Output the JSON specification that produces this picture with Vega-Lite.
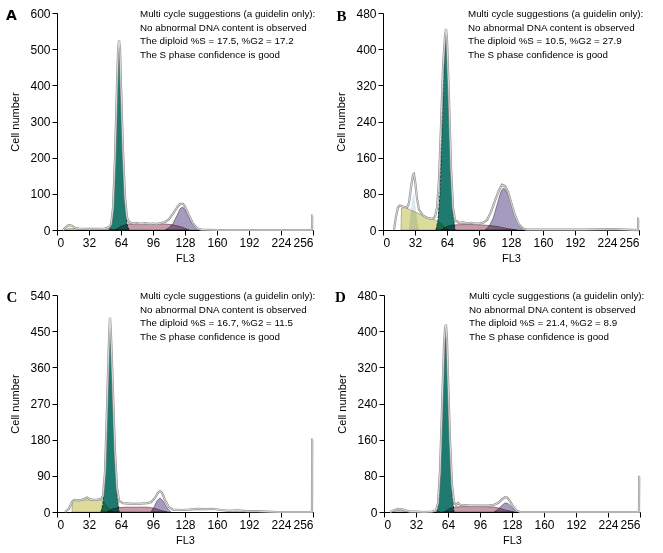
{
"$schema": "https://vega.github.io/schema/vega-lite/v6.json",
"padding": {"left": 6, "top": 7, "right": 0, "bottom": 0},
"config": {
  "font": "Liberation Sans",
  "view": {"stroke": null},
  "axis": {"grid": false, "domainColor": "#000", "tickColor": "#000", "labelColor": "#000", "titleColor": "#000", "labelFontSize": 12, "titleFontSize": 11, "titleFontWeight": "normal", "tickSize": 5, "labelPadding": 2, "labelFont": "Liberation Sans", "titleFont": "Liberation Sans"},
  "axisY": {"titlePadding": 9},
  "axisX": {"titlePadding": 4}
},
"datasets": {
"hist": [
{"panel":"A","comp":"note"},{"panel":"B","comp":"note"},{"panel":"C","comp":"note"},{"panel":"D","comp":"note"},
{"panel":"A","comp":"raw","x":6,"y":0},{"panel":"A","comp":"raw","x":9,"y":8},{"panel":"A","comp":"raw","x":12,"y":14},{"panel":"A","comp":"raw","x":15,"y":12},{"panel":"A","comp":"raw","x":18,"y":6},{"panel":"A","comp":"raw","x":22,"y":4},{"panel":"A","comp":"raw","x":30,"y":3},{"panel":"A","comp":"raw","x":40,"y":3},{"panel":"A","comp":"raw","x":48,"y":4},{"panel":"A","comp":"raw","x":52,"y":8},{"panel":"A","comp":"raw","x":54,"y":15},{"panel":"A","comp":"raw","x":56,"y":60},{"panel":"A","comp":"raw","x":58,"y":200},{"panel":"A","comp":"raw","x":60,"y":400},{"panel":"A","comp":"raw","x":61,"y":490},{"panel":"A","comp":"raw","x":62,"y":525},{"panel":"A","comp":"raw","x":63,"y":500},{"panel":"A","comp":"raw","x":64,"y":400},{"panel":"A","comp":"raw","x":66,"y":220},{"panel":"A","comp":"raw","x":68,"y":90},{"panel":"A","comp":"raw","x":70,"y":35},{"panel":"A","comp":"raw","x":72,"y":22},{"panel":"A","comp":"raw","x":76,"y":18},{"panel":"A","comp":"raw","x":80,"y":20},{"panel":"A","comp":"raw","x":84,"y":17},{"panel":"A","comp":"raw","x":88,"y":19},{"panel":"A","comp":"raw","x":92,"y":17},{"panel":"A","comp":"raw","x":96,"y":18},{"panel":"A","comp":"raw","x":100,"y":17},{"panel":"A","comp":"raw","x":104,"y":19},{"panel":"A","comp":"raw","x":108,"y":22},{"panel":"A","comp":"raw","x":112,"y":30},{"panel":"A","comp":"raw","x":116,"y":45},{"panel":"A","comp":"raw","x":120,"y":62},{"panel":"A","comp":"raw","x":123,"y":72},{"panel":"A","comp":"raw","x":126,"y":72},{"panel":"A","comp":"raw","x":128,"y":65},{"panel":"A","comp":"raw","x":132,"y":40},{"panel":"A","comp":"raw","x":136,"y":18},{"panel":"A","comp":"raw","x":140,"y":5},{"panel":"A","comp":"raw","x":144,"y":1},{"panel":"A","comp":"raw","x":160,"y":0},{"panel":"A","comp":"raw","x":200,"y":0},{"panel":"A","comp":"raw","x":255,"y":0},{"panel":"A","comp":"raw","x":255.2,"y":40},{"panel":"A","comp":"raw","x":256,"y":40},
{"panel":"A","comp":"G1","x":52,"y":0},{"panel":"A","comp":"G1","x":54,"y":10},{"panel":"A","comp":"G1","x":56,"y":50},{"panel":"A","comp":"G1","x":58,"y":180},{"panel":"A","comp":"G1","x":60,"y":380},{"panel":"A","comp":"G1","x":61,"y":470},{"panel":"A","comp":"G1","x":62,"y":505},{"panel":"A","comp":"G1","x":63,"y":480},{"panel":"A","comp":"G1","x":64,"y":380},{"panel":"A","comp":"G1","x":66,"y":200},{"panel":"A","comp":"G1","x":68,"y":70},{"panel":"A","comp":"G1","x":70,"y":15},{"panel":"A","comp":"G1","x":72,"y":0},
{"panel":"A","comp":"S","x":58,"y":0},{"panel":"A","comp":"S","x":64,"y":10},{"panel":"A","comp":"S","x":70,"y":16},{"panel":"A","comp":"S","x":80,"y":17},{"panel":"A","comp":"S","x":90,"y":17},{"panel":"A","comp":"S","x":100,"y":17},{"panel":"A","comp":"S","x":110,"y":16},{"panel":"A","comp":"S","x":116,"y":14},{"panel":"A","comp":"S","x":122,"y":10},{"panel":"A","comp":"S","x":128,"y":5},{"panel":"A","comp":"S","x":132,"y":0},
{"panel":"A","comp":"G2","x":108,"y":0},{"panel":"A","comp":"G2","x":112,"y":6},{"panel":"A","comp":"G2","x":116,"y":18},{"panel":"A","comp":"G2","x":120,"y":40},{"panel":"A","comp":"G2","x":123,"y":58},{"panel":"A","comp":"G2","x":125,"y":63},{"panel":"A","comp":"G2","x":127,"y":60},{"panel":"A","comp":"G2","x":130,"y":45},{"panel":"A","comp":"G2","x":134,"y":22},{"panel":"A","comp":"G2","x":138,"y":8},{"panel":"A","comp":"G2","x":142,"y":0},
{"panel":"A","comp":"deb","x":8,"y":0},{"panel":"A","comp":"deb","x":12,"y":5},{"panel":"A","comp":"deb","x":16,"y":4},{"panel":"A","comp":"deb","x":30,"y":3},{"panel":"A","comp":"deb","x":45,"y":3},{"panel":"A","comp":"deb","x":55,"y":2},{"panel":"A","comp":"deb","x":60,"y":0},

{"panel":"B","comp":"raw","x":11,"y":0},{"panel":"B","comp":"raw","x":13,"y":30},{"panel":"B","comp":"raw","x":15,"y":50},{"panel":"B","comp":"raw","x":17,"y":54},{"panel":"B","comp":"raw","x":20,"y":52},{"panel":"B","comp":"raw","x":24,"y":50},{"panel":"B","comp":"raw","x":26,"y":60},{"panel":"B","comp":"raw","x":28,"y":95},{"panel":"B","comp":"raw","x":30,"y":122},{"panel":"B","comp":"raw","x":31,"y":124},{"panel":"B","comp":"raw","x":32,"y":110},{"panel":"B","comp":"raw","x":34,"y":70},{"panel":"B","comp":"raw","x":36,"y":45},{"panel":"B","comp":"raw","x":40,"y":32},{"panel":"B","comp":"raw","x":44,"y":27},{"panel":"B","comp":"raw","x":48,"y":25},{"panel":"B","comp":"raw","x":50,"y":25},{"panel":"B","comp":"raw","x":52,"y":30},{"panel":"B","comp":"raw","x":54,"y":50},{"panel":"B","comp":"raw","x":56,"y":110},{"panel":"B","comp":"raw","x":58,"y":230},{"panel":"B","comp":"raw","x":60,"y":360},{"panel":"B","comp":"raw","x":62,"y":430},{"panel":"B","comp":"raw","x":63,"y":445},{"panel":"B","comp":"raw","x":64,"y":420},{"panel":"B","comp":"raw","x":66,"y":290},{"panel":"B","comp":"raw","x":68,"y":140},{"panel":"B","comp":"raw","x":70,"y":50},{"panel":"B","comp":"raw","x":72,"y":22},{"panel":"B","comp":"raw","x":76,"y":16},{"panel":"B","comp":"raw","x":80,"y":17},{"panel":"B","comp":"raw","x":84,"y":15},{"panel":"B","comp":"raw","x":88,"y":16},{"panel":"B","comp":"raw","x":92,"y":14},{"panel":"B","comp":"raw","x":96,"y":14},{"panel":"B","comp":"raw","x":100,"y":16},{"panel":"B","comp":"raw","x":104,"y":22},{"panel":"B","comp":"raw","x":108,"y":40},{"panel":"B","comp":"raw","x":112,"y":65},{"panel":"B","comp":"raw","x":116,"y":88},{"panel":"B","comp":"raw","x":119,"y":100},{"panel":"B","comp":"raw","x":122,"y":97},{"panel":"B","comp":"raw","x":125,"y":85},{"panel":"B","comp":"raw","x":128,"y":62},{"panel":"B","comp":"raw","x":132,"y":32},{"panel":"B","comp":"raw","x":136,"y":12},{"panel":"B","comp":"raw","x":140,"y":3},{"panel":"B","comp":"raw","x":144,"y":1},{"panel":"B","comp":"raw","x":160,"y":1},{"panel":"B","comp":"raw","x":200,"y":1},{"panel":"B","comp":"raw","x":230,"y":2},{"panel":"B","comp":"raw","x":255,"y":0},{"panel":"B","comp":"raw","x":255.2,"y":25},{"panel":"B","comp":"raw","x":256,"y":25},
{"panel":"B","comp":"agg","x":26,"y":0},{"panel":"B","comp":"agg","x":28,"y":45},{"panel":"B","comp":"agg","x":30,"y":78},{"panel":"B","comp":"agg","x":31,"y":80},{"panel":"B","comp":"agg","x":32,"y":62},{"panel":"B","comp":"agg","x":34,"y":25},{"panel":"B","comp":"agg","x":36,"y":0},
{"panel":"B","comp":"G1","x":53,"y":0},{"panel":"B","comp":"G1","x":55,"y":20},{"panel":"B","comp":"G1","x":57,"y":80},{"panel":"B","comp":"G1","x":59,"y":220},{"panel":"B","comp":"G1","x":61,"y":360},{"panel":"B","comp":"G1","x":62,"y":410},{"panel":"B","comp":"G1","x":63,"y":430},{"panel":"B","comp":"G1","x":64,"y":405},{"panel":"B","comp":"G1","x":66,"y":270},{"panel":"B","comp":"G1","x":68,"y":120},{"panel":"B","comp":"G1","x":70,"y":35},{"panel":"B","comp":"G1","x":72,"y":0},
{"panel":"B","comp":"deb","x":18,"y":0},{"panel":"B","comp":"deb","x":18.5,"y":48},{"panel":"B","comp":"deb","x":22,"y":50},{"panel":"B","comp":"deb","x":26,"y":46},{"panel":"B","comp":"deb","x":30,"y":42},{"panel":"B","comp":"deb","x":34,"y":38},{"panel":"B","comp":"deb","x":38,"y":34},{"panel":"B","comp":"deb","x":42,"y":30},{"panel":"B","comp":"deb","x":46,"y":27},{"panel":"B","comp":"deb","x":50,"y":24},{"panel":"B","comp":"deb","x":54,"y":20},{"panel":"B","comp":"deb","x":58,"y":14},{"panel":"B","comp":"deb","x":62,"y":6},{"panel":"B","comp":"deb","x":66,"y":0},
{"panel":"B","comp":"S","x":58,"y":0},{"panel":"B","comp":"S","x":64,"y":8},{"panel":"B","comp":"S","x":70,"y":11},{"panel":"B","comp":"S","x":80,"y":12},{"panel":"B","comp":"S","x":90,"y":12},{"panel":"B","comp":"S","x":100,"y":11},{"panel":"B","comp":"S","x":110,"y":9},{"panel":"B","comp":"S","x":116,"y":7},{"panel":"B","comp":"S","x":122,"y":4},{"panel":"B","comp":"S","x":128,"y":2},{"panel":"B","comp":"S","x":134,"y":0},
{"panel":"B","comp":"G2","x":102,"y":0},{"panel":"B","comp":"G2","x":106,"y":8},{"panel":"B","comp":"G2","x":110,"y":25},{"panel":"B","comp":"G2","x":114,"y":55},{"panel":"B","comp":"G2","x":118,"y":85},{"panel":"B","comp":"G2","x":120,"y":92},{"panel":"B","comp":"G2","x":122,"y":90},{"panel":"B","comp":"G2","x":125,"y":78},{"panel":"B","comp":"G2","x":128,"y":58},{"panel":"B","comp":"G2","x":132,"y":30},{"panel":"B","comp":"G2","x":136,"y":12},{"panel":"B","comp":"G2","x":140,"y":3},{"panel":"B","comp":"G2","x":143,"y":0},

{"panel":"C","comp":"raw","x":8,"y":0},{"panel":"C","comp":"raw","x":12,"y":8},{"panel":"C","comp":"raw","x":15,"y":25},{"panel":"C","comp":"raw","x":18,"y":30},{"panel":"C","comp":"raw","x":22,"y":29},{"panel":"C","comp":"raw","x":26,"y":31},{"panel":"C","comp":"raw","x":30,"y":36},{"panel":"C","comp":"raw","x":32,"y":33},{"panel":"C","comp":"raw","x":36,"y":30},{"panel":"C","comp":"raw","x":40,"y":31},{"panel":"C","comp":"raw","x":44,"y":33},{"panel":"C","comp":"raw","x":46,"y":40},{"panel":"C","comp":"raw","x":48,"y":100},{"panel":"C","comp":"raw","x":50,"y":260},{"panel":"C","comp":"raw","x":52,"y":430},{"panel":"C","comp":"raw","x":53,"y":484},{"panel":"C","comp":"raw","x":54,"y":440},{"panel":"C","comp":"raw","x":56,"y":300},{"panel":"C","comp":"raw","x":58,"y":150},{"panel":"C","comp":"raw","x":60,"y":60},{"panel":"C","comp":"raw","x":62,"y":28},{"panel":"C","comp":"raw","x":66,"y":22},{"panel":"C","comp":"raw","x":72,"y":21},{"panel":"C","comp":"raw","x":78,"y":20},{"panel":"C","comp":"raw","x":84,"y":21},{"panel":"C","comp":"raw","x":90,"y":22},{"panel":"C","comp":"raw","x":94,"y":24},{"panel":"C","comp":"raw","x":98,"y":35},{"panel":"C","comp":"raw","x":101,"y":48},{"panel":"C","comp":"raw","x":103,"y":52},{"panel":"C","comp":"raw","x":105,"y":48},{"panel":"C","comp":"raw","x":108,"y":30},{"panel":"C","comp":"raw","x":112,"y":12},{"panel":"C","comp":"raw","x":116,"y":6},{"panel":"C","comp":"raw","x":124,"y":5},{"panel":"C","comp":"raw","x":132,"y":6},{"panel":"C","comp":"raw","x":140,"y":8},{"panel":"C","comp":"raw","x":148,"y":7},{"panel":"C","comp":"raw","x":156,"y":8},{"panel":"C","comp":"raw","x":164,"y":5},{"panel":"C","comp":"raw","x":172,"y":3},{"panel":"C","comp":"raw","x":180,"y":4},{"panel":"C","comp":"raw","x":190,"y":2},{"panel":"C","comp":"raw","x":200,"y":2},{"panel":"C","comp":"raw","x":210,"y":1},{"panel":"C","comp":"raw","x":220,"y":0},{"panel":"C","comp":"raw","x":255,"y":0},{"panel":"C","comp":"raw","x":255.2,"y":180},{"panel":"C","comp":"raw","x":256,"y":180},
{"panel":"C","comp":"G1","x":44,"y":0},{"panel":"C","comp":"G1","x":46,"y":20},{"panel":"C","comp":"G1","x":48,"y":90},{"panel":"C","comp":"G1","x":50,"y":240},{"panel":"C","comp":"G1","x":52,"y":410},{"panel":"C","comp":"G1","x":53,"y":460},{"panel":"C","comp":"G1","x":54,"y":420},{"panel":"C","comp":"G1","x":56,"y":270},{"panel":"C","comp":"G1","x":58,"y":120},{"panel":"C","comp":"G1","x":60,"y":40},{"panel":"C","comp":"G1","x":62,"y":0},
{"panel":"C","comp":"deb","x":15,"y":0},{"panel":"C","comp":"deb","x":15.5,"y":30},{"panel":"C","comp":"deb","x":20,"y":30},{"panel":"C","comp":"deb","x":30,"y":30},{"panel":"C","comp":"deb","x":40,"y":30},{"panel":"C","comp":"deb","x":45,"y":30},{"panel":"C","comp":"deb","x":48,"y":20},{"panel":"C","comp":"deb","x":52,"y":8},{"panel":"C","comp":"deb","x":56,"y":0},
{"panel":"C","comp":"S","x":50,"y":0},{"panel":"C","comp":"S","x":56,"y":8},{"panel":"C","comp":"S","x":62,"y":11},{"panel":"C","comp":"S","x":70,"y":12},{"panel":"C","comp":"S","x":80,"y":12},{"panel":"C","comp":"S","x":90,"y":12},{"panel":"C","comp":"S","x":96,"y":10},{"panel":"C","comp":"S","x":100,"y":7},{"panel":"C","comp":"S","x":104,"y":4},{"panel":"C","comp":"S","x":108,"y":1},{"panel":"C","comp":"S","x":110,"y":0},
{"panel":"C","comp":"G2","x":94,"y":0},{"panel":"C","comp":"G2","x":97,"y":12},{"panel":"C","comp":"G2","x":100,"y":28},{"panel":"C","comp":"G2","x":103,"y":35},{"panel":"C","comp":"G2","x":106,"y":28},{"panel":"C","comp":"G2","x":109,"y":14},{"panel":"C","comp":"G2","x":112,"y":4},{"panel":"C","comp":"G2","x":114,"y":0},
{"panel":"C","comp":"end","x":255,"y":135},{"panel":"C","comp":"end","x":256,"y":135},

{"panel":"D","comp":"raw","x":6,"y":0},{"panel":"D","comp":"raw","x":10,"y":4},{"panel":"D","comp":"raw","x":14,"y":7},{"panel":"D","comp":"raw","x":18,"y":6},{"panel":"D","comp":"raw","x":22,"y":3},{"panel":"D","comp":"raw","x":26,"y":1},{"panel":"D","comp":"raw","x":32,"y":1},{"panel":"D","comp":"raw","x":40,"y":0},{"panel":"D","comp":"raw","x":48,"y":1},{"panel":"D","comp":"raw","x":52,"y":4},{"panel":"D","comp":"raw","x":54,"y":20},{"panel":"D","comp":"raw","x":56,"y":90},{"panel":"D","comp":"raw","x":58,"y":230},{"panel":"D","comp":"raw","x":60,"y":370},{"panel":"D","comp":"raw","x":61,"y":405},{"panel":"D","comp":"raw","x":62,"y":415},{"panel":"D","comp":"raw","x":63,"y":380},{"panel":"D","comp":"raw","x":64,"y":300},{"panel":"D","comp":"raw","x":66,"y":160},{"panel":"D","comp":"raw","x":68,"y":60},{"panel":"D","comp":"raw","x":70,"y":22},{"panel":"D","comp":"raw","x":72,"y":16},{"panel":"D","comp":"raw","x":74,"y":20},{"panel":"D","comp":"raw","x":76,"y":16},{"panel":"D","comp":"raw","x":80,"y":15},{"panel":"D","comp":"raw","x":86,"y":14},{"panel":"D","comp":"raw","x":92,"y":14},{"panel":"D","comp":"raw","x":98,"y":14},{"panel":"D","comp":"raw","x":104,"y":14},{"panel":"D","comp":"raw","x":110,"y":16},{"panel":"D","comp":"raw","x":114,"y":20},{"panel":"D","comp":"raw","x":118,"y":28},{"panel":"D","comp":"raw","x":121,"y":33},{"panel":"D","comp":"raw","x":123,"y":32},{"panel":"D","comp":"raw","x":126,"y":24},{"panel":"D","comp":"raw","x":129,"y":12},{"panel":"D","comp":"raw","x":132,"y":4},{"panel":"D","comp":"raw","x":136,"y":0},{"panel":"D","comp":"raw","x":255,"y":0},{"panel":"D","comp":"raw","x":255.2,"y":78},{"panel":"D","comp":"raw","x":256,"y":78},
{"panel":"D","comp":"G1","x":53,"y":0},{"panel":"D","comp":"G1","x":55,"y":30},{"panel":"D","comp":"G1","x":57,"y":120},{"panel":"D","comp":"G1","x":59,"y":280},{"panel":"D","comp":"G1","x":61,"y":390},{"panel":"D","comp":"G1","x":62,"y":400},{"panel":"D","comp":"G1","x":63,"y":360},{"panel":"D","comp":"G1","x":64,"y":280},{"panel":"D","comp":"G1","x":66,"y":140},{"panel":"D","comp":"G1","x":68,"y":40},{"panel":"D","comp":"G1","x":70,"y":0},
{"panel":"D","comp":"deb","x":8,"y":0},{"panel":"D","comp":"deb","x":12,"y":3},{"panel":"D","comp":"deb","x":16,"y":4},{"panel":"D","comp":"deb","x":22,"y":2},{"panel":"D","comp":"deb","x":30,"y":1},{"panel":"D","comp":"deb","x":50,"y":1},{"panel":"D","comp":"deb","x":56,"y":0},
{"panel":"D","comp":"S","x":60,"y":0},{"panel":"D","comp":"S","x":66,"y":8},{"panel":"D","comp":"S","x":72,"y":11},{"panel":"D","comp":"S","x":80,"y":12},{"panel":"D","comp":"S","x":90,"y":12},{"panel":"D","comp":"S","x":100,"y":12},{"panel":"D","comp":"S","x":110,"y":11},{"panel":"D","comp":"S","x":116,"y":8},{"panel":"D","comp":"S","x":120,"y":5},{"panel":"D","comp":"S","x":126,"y":2},{"panel":"D","comp":"S","x":130,"y":0},
{"panel":"D","comp":"G2","x":110,"y":0},{"panel":"D","comp":"G2","x":114,"y":6},{"panel":"D","comp":"G2","x":118,"y":15},{"panel":"D","comp":"G2","x":121,"y":20},{"panel":"D","comp":"G2","x":124,"y":19},{"panel":"D","comp":"G2","x":127,"y":12},{"panel":"D","comp":"G2","x":130,"y":5},{"panel":"D","comp":"G2","x":134,"y":0},
{"panel":"D","comp":"end","x":255,"y":60},{"panel":"D","comp":"end","x":256,"y":60}
]
},
"spacing": 26,
"vconcat": [
{"spacing": 17, "hconcat": [
{
 "width": 256, "height": 217,
 "data": {"name": "hist"},
 "transform": [{"filter": "datum.panel === 'A'"}],
 "layer": [
  {"encoding": {
    "x": {"field": "x", "type": "quantitative", "scale": {"domain": [0, 256], "nice": false, "zero": false}, "axis": {"values": [0,32,64,96,128,160,192,224,256], "title": "FL3"}},
    "y": {"field": "y", "type": "quantitative", "scale": {"domain": [0, 600], "nice": false}, "axis": {"values": [0,100,200,300,400,500,600], "title": "Cell number"}}},
   "layer": [
    {"transform": [{"filter": "datum.comp === 'agg'"}], "mark": {"type": "area", "color": "#dce8f1"}},
    {"transform": [{"filter": "datum.comp === 'G1'"}], "mark": {"type": "area", "color": "#1f7a70", "stroke": "#163a35", "strokeWidth": 1, "strokeDash": [3, 1]}},
    {"transform": [{"filter": "datum.comp === 'deb'"}], "mark": {"type": "area", "color": "#dcdb9c", "blend": "multiply", "stroke": "#8b8b62", "strokeWidth": 0.6}},
    {"transform": [{"filter": "datum.comp === 'S'"}], "mark": {"type": "area", "color": "#c99aa7", "blend": "multiply", "stroke": "#6e4a54", "strokeWidth": 0.7}},
    {"transform": [{"filter": "datum.comp === 'G2'"}], "mark": {"type": "area", "color": "#a59bbf", "blend": "multiply", "stroke": "#5a5070", "strokeWidth": 0.7}},
    {"transform": [{"filter": "datum.comp === 'end'"}], "mark": {"type": "area", "color": "#555555"}},
    {"transform": [{"filter": "datum.comp === 'raw'"}], "mark": {"type": "line", "color": "#8e8e8e", "strokeWidth": 2.2}},
    {"transform": [{"filter": "datum.comp === 'raw'"}], "mark": {"type": "line", "color": "#ffffff", "strokeWidth": 0.8, "opacity": 0.85}}
   ]},
  {"transform": [{"filter": "datum.comp === 'note'"}], "mark": {"type": "text", "align": "left", "baseline": "top", "fontSize": 9.8, "lineHeight": 13.7, "color": "#000"},
   "encoding": {
    "x": {"datum": 83, "type": "quantitative", "scale": {"domain": [0, 256], "nice": false, "zero": false}, "axis": {"values": [0,32,64,96,128,160,192,224,256], "title": "FL3"}},
    "y": {"datum": 611, "type": "quantitative", "scale": {"domain": [0, 600], "nice": false}, "axis": {"values": [0,100,200,300,400,500,600], "title": "Cell number"}},
    "text": {"value": ["Multi cycle suggestions (a guidelin only):", "No abnormal DNA content is observed", "The diploid %S = 17.5, %G2 = 17.2", "The S phase confidence is good"]}}},
  {"transform": [{"filter": "datum.comp === 'note'"}], "mark": {"type": "text", "align": "center", "baseline": "middle", "fontSize": 14, "fontWeight": "bold", "font": "DejaVu Sans", "color": "#000"},
   "encoding": {
    "x": {"datum": -45.5, "type": "quantitative", "scale": {"domain": [0, 256], "nice": false, "zero": false}, "axis": {"values": [0,32,64,96,128,160,192,224,256], "title": "FL3"}},
    "y": {"datum": 592, "type": "quantitative", "scale": {"domain": [0, 600], "nice": false}, "axis": {"values": [0,100,200,300,400,500,600], "title": "Cell number"}},
    "text": {"value": "A"}}}
 ]
},
{
 "width": 256, "height": 217,
 "data": {"name": "hist"},
 "transform": [{"filter": "datum.panel === 'B'"}],
 "layer": [
  {"encoding": {
    "x": {"field": "x", "type": "quantitative", "scale": {"domain": [0, 256], "nice": false, "zero": false}, "axis": {"values": [0,32,64,96,128,160,192,224,256], "title": "FL3"}},
    "y": {"field": "y", "type": "quantitative", "scale": {"domain": [0, 480], "nice": false}, "axis": {"values": [0,80,160,240,320,400,480], "title": "Cell number"}}},
   "layer": [
    {"transform": [{"filter": "datum.comp === 'agg'"}], "mark": {"type": "area", "color": "#dce8f1"}},
    {"transform": [{"filter": "datum.comp === 'G1'"}], "mark": {"type": "area", "color": "#1f7a70", "stroke": "#163a35", "strokeWidth": 1, "strokeDash": [3, 1]}},
    {"transform": [{"filter": "datum.comp === 'deb'"}], "mark": {"type": "area", "color": "#dcdb9c", "blend": "multiply", "stroke": "#8b8b62", "strokeWidth": 0.6}},
    {"transform": [{"filter": "datum.comp === 'S'"}], "mark": {"type": "area", "color": "#c99aa7", "blend": "multiply", "stroke": "#6e4a54", "strokeWidth": 0.7}},
    {"transform": [{"filter": "datum.comp === 'G2'"}], "mark": {"type": "area", "color": "#a59bbf", "blend": "multiply", "stroke": "#5a5070", "strokeWidth": 0.7}},
    {"transform": [{"filter": "datum.comp === 'end'"}], "mark": {"type": "area", "color": "#555555"}},
    {"transform": [{"filter": "datum.comp === 'raw'"}], "mark": {"type": "line", "color": "#8e8e8e", "strokeWidth": 2.2}},
    {"transform": [{"filter": "datum.comp === 'raw'"}], "mark": {"type": "line", "color": "#ffffff", "strokeWidth": 0.8, "opacity": 0.85}}
   ]},
  {"transform": [{"filter": "datum.comp === 'note'"}], "mark": {"type": "text", "align": "left", "baseline": "top", "fontSize": 9.8, "lineHeight": 13.7, "color": "#000"},
   "encoding": {
    "x": {"datum": 85, "type": "quantitative", "scale": {"domain": [0, 256], "nice": false, "zero": false}, "axis": {"values": [0,32,64,96,128,160,192,224,256], "title": "FL3"}},
    "y": {"datum": 489, "type": "quantitative", "scale": {"domain": [0, 480], "nice": false}, "axis": {"values": [0,80,160,240,320,400,480], "title": "Cell number"}},
    "text": {"value": ["Multi cycle suggestions (a guidelin only):", "No abnormal DNA content is observed", "The diploid %S = 10.5, %G2 = 27.9", "The S phase confidence is good"]}}},
  {"transform": [{"filter": "datum.comp === 'note'"}], "mark": {"type": "text", "align": "center", "baseline": "middle", "fontSize": 15, "fontWeight": "bold", "font": "Liberation Serif", "color": "#000"},
   "encoding": {
    "x": {"datum": -41.5, "type": "quantitative", "scale": {"domain": [0, 256], "nice": false, "zero": false}, "axis": {"values": [0,32,64,96,128,160,192,224,256], "title": "FL3"}},
    "y": {"datum": 473, "type": "quantitative", "scale": {"domain": [0, 480], "nice": false}, "axis": {"values": [0,80,160,240,320,400,480], "title": "Cell number"}},
    "text": {"value": "B"}}}
 ]
}
]},
{"spacing": 17, "hconcat": [
{
 "width": 256, "height": 217,
 "data": {"name": "hist"},
 "transform": [{"filter": "datum.panel === 'C'"}],
 "layer": [
  {"encoding": {
    "x": {"field": "x", "type": "quantitative", "scale": {"domain": [0, 256], "nice": false, "zero": false}, "axis": {"values": [0,32,64,96,128,160,192,224,256], "title": "FL3"}},
    "y": {"field": "y", "type": "quantitative", "scale": {"domain": [0, 540], "nice": false}, "axis": {"values": [0,90,180,270,360,450,540], "title": "Cell number"}}},
   "layer": [
    {"transform": [{"filter": "datum.comp === 'agg'"}], "mark": {"type": "area", "color": "#dce8f1"}},
    {"transform": [{"filter": "datum.comp === 'G1'"}], "mark": {"type": "area", "color": "#1f7a70", "stroke": "#163a35", "strokeWidth": 1, "strokeDash": [3, 1]}},
    {"transform": [{"filter": "datum.comp === 'deb'"}], "mark": {"type": "area", "color": "#dcdb9c", "blend": "multiply", "stroke": "#8b8b62", "strokeWidth": 0.6}},
    {"transform": [{"filter": "datum.comp === 'S'"}], "mark": {"type": "area", "color": "#c99aa7", "blend": "multiply", "stroke": "#6e4a54", "strokeWidth": 0.7}},
    {"transform": [{"filter": "datum.comp === 'G2'"}], "mark": {"type": "area", "color": "#a59bbf", "blend": "multiply", "stroke": "#5a5070", "strokeWidth": 0.7}},
    {"transform": [{"filter": "datum.comp === 'end'"}], "mark": {"type": "area", "color": "#555555"}},
    {"transform": [{"filter": "datum.comp === 'raw'"}], "mark": {"type": "line", "color": "#8e8e8e", "strokeWidth": 2.2}},
    {"transform": [{"filter": "datum.comp === 'raw'"}], "mark": {"type": "line", "color": "#ffffff", "strokeWidth": 0.8, "opacity": 0.85}}
   ]},
  {"transform": [{"filter": "datum.comp === 'note'"}], "mark": {"type": "text", "align": "left", "baseline": "top", "fontSize": 9.8, "lineHeight": 13.7, "color": "#000"},
   "encoding": {
    "x": {"datum": 83, "type": "quantitative", "scale": {"domain": [0, 256], "nice": false, "zero": false}, "axis": {"values": [0,32,64,96,128,160,192,224,256], "title": "FL3"}},
    "y": {"datum": 550, "type": "quantitative", "scale": {"domain": [0, 540], "nice": false}, "axis": {"values": [0,90,180,270,360,450,540], "title": "Cell number"}},
    "text": {"value": ["Multi cycle suggestions (a guidelin only):", "No abnormal DNA content is observed", "The diploid %S = 16.7, %G2 = 11.5", "The S phase confidence is good"]}}},
  {"transform": [{"filter": "datum.comp === 'note'"}], "mark": {"type": "text", "align": "center", "baseline": "middle", "fontSize": 15, "fontWeight": "bold", "font": "Liberation Serif", "color": "#000"},
   "encoding": {
    "x": {"datum": -45, "type": "quantitative", "scale": {"domain": [0, 256], "nice": false, "zero": false}, "axis": {"values": [0,32,64,96,128,160,192,224,256], "title": "FL3"}},
    "y": {"datum": 535, "type": "quantitative", "scale": {"domain": [0, 540], "nice": false}, "axis": {"values": [0,90,180,270,360,450,540], "title": "Cell number"}},
    "text": {"value": "C"}}}
 ]
},
{
 "width": 256, "height": 217,
 "data": {"name": "hist"},
 "transform": [{"filter": "datum.panel === 'D'"}],
 "layer": [
  {"encoding": {
    "x": {"field": "x", "type": "quantitative", "scale": {"domain": [0, 256], "nice": false, "zero": false}, "axis": {"values": [0,32,64,96,128,160,192,224,256], "title": "FL3"}},
    "y": {"field": "y", "type": "quantitative", "scale": {"domain": [0, 480], "nice": false}, "axis": {"values": [0,80,160,240,320,400,480], "title": "Cell number"}}},
   "layer": [
    {"transform": [{"filter": "datum.comp === 'agg'"}], "mark": {"type": "area", "color": "#dce8f1"}},
    {"transform": [{"filter": "datum.comp === 'G1'"}], "mark": {"type": "area", "color": "#1f7a70", "stroke": "#163a35", "strokeWidth": 1, "strokeDash": [3, 1]}},
    {"transform": [{"filter": "datum.comp === 'deb'"}], "mark": {"type": "area", "color": "#dcdb9c", "blend": "multiply", "stroke": "#8b8b62", "strokeWidth": 0.6}},
    {"transform": [{"filter": "datum.comp === 'S'"}], "mark": {"type": "area", "color": "#c99aa7", "blend": "multiply", "stroke": "#6e4a54", "strokeWidth": 0.7}},
    {"transform": [{"filter": "datum.comp === 'G2'"}], "mark": {"type": "area", "color": "#a59bbf", "blend": "multiply", "stroke": "#5a5070", "strokeWidth": 0.7}},
    {"transform": [{"filter": "datum.comp === 'end'"}], "mark": {"type": "area", "color": "#555555"}},
    {"transform": [{"filter": "datum.comp === 'raw'"}], "mark": {"type": "line", "color": "#8e8e8e", "strokeWidth": 2.2}},
    {"transform": [{"filter": "datum.comp === 'raw'"}], "mark": {"type": "line", "color": "#ffffff", "strokeWidth": 0.8, "opacity": 0.85}}
   ]},
  {"transform": [{"filter": "datum.comp === 'note'"}], "mark": {"type": "text", "align": "left", "baseline": "top", "fontSize": 9.8, "lineHeight": 13.7, "color": "#000"},
   "encoding": {
    "x": {"datum": 85, "type": "quantitative", "scale": {"domain": [0, 256], "nice": false, "zero": false}, "axis": {"values": [0,32,64,96,128,160,192,224,256], "title": "FL3"}},
    "y": {"datum": 489, "type": "quantitative", "scale": {"domain": [0, 480], "nice": false}, "axis": {"values": [0,80,160,240,320,400,480], "title": "Cell number"}},
    "text": {"value": ["Multi cycle suggestions (a guidelin only):", "No abnormal DNA content is observed", "The diploid %S = 21.4, %G2 = 8.9", "The S phase confidence is good"]}}},
  {"transform": [{"filter": "datum.comp === 'note'"}], "mark": {"type": "text", "align": "center", "baseline": "middle", "fontSize": 15, "fontWeight": "bold", "font": "Liberation Serif", "color": "#000"},
   "encoding": {
    "x": {"datum": -43.5, "type": "quantitative", "scale": {"domain": [0, 256], "nice": false, "zero": false}, "axis": {"values": [0,32,64,96,128,160,192,224,256], "title": "FL3"}},
    "y": {"datum": 476, "type": "quantitative", "scale": {"domain": [0, 480], "nice": false}, "axis": {"values": [0,80,160,240,320,400,480], "title": "Cell number"}},
    "text": {"value": "D"}}}
 ]
}
]}
]
}
